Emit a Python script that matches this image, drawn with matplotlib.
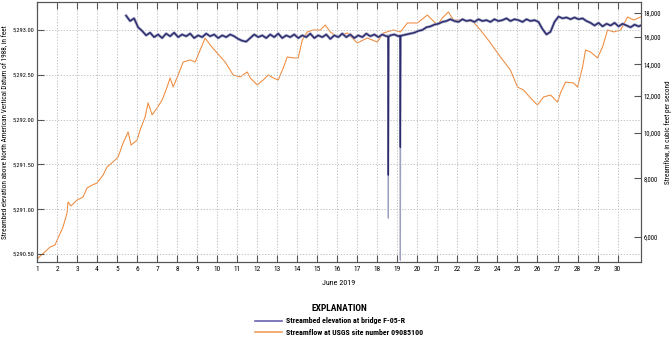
import matplotlib
matplotlib.use("Agg")
import matplotlib.pyplot as plt
import numpy as np
from matplotlib.lines import Line2D
from matplotlib.ticker import FixedLocator, FuncFormatter, NullLocator

plt.rcParams['font.family'] = ['Roboto Condensed', 'Archivo Narrow', 'DejaVu Sans']

# streamflow at USGS site 09085100, cfs
flow_day = [1.05, 1.65, 1.9, 2.05, 2.3, 2.5, 2.55, 2.7, 3.0, 3.3, 3.5, 3.75, 4.0, 4.3, 4.5,
            4.8, 5.05, 5.3, 5.55, 5.7, 6.0, 6.15, 6.4, 6.55, 6.75, 7.0, 7.25, 7.5, 7.65, 7.8,
            8.05, 8.3, 8.65, 8.9, 9.15, 9.4, 9.65, 10.0, 10.4, 10.8, 11.15, 11.5, 11.65, 12.0,
            12.3, 12.55, 12.8, 13.05, 13.3, 13.5, 13.8, 14.05, 14.25, 14.5, 14.8, 15.15, 15.4,
            15.65, 16.0, 16.5, 17.0, 17.5, 18.0, 18.3, 18.8, 19.15, 19.5, 20.0, 20.5, 21.0,
            21.25, 21.55, 21.8, 22.3, 22.8, 23.15, 23.65, 24.15, 24.65, 25.0, 25.3, 25.65,
            26.0, 26.3, 26.65, 27.0, 27.15, 27.4, 27.8, 28.0, 28.25, 28.4, 28.65, 29.0, 29.25,
            29.5, 29.8, 30.15, 30.5, 30.8, 31.15]
flow_cfs = [5410, 5710, 5770, 5970, 6300, 6750, 7120, 6990, 7190, 7300, 7630, 7740, 7820, 8130, 8460,
            8670, 8880, 9510, 10040, 9420, 9650, 10140, 10810, 11580, 10920, 11300, 11750, 12520, 13090, 12520,
            13280, 14150, 14300, 14150, 15010, 15920, 15390, 14790, 14150, 13280, 13150, 13480, 13090, 12650,
            12960, 13280, 13090, 12960, 13740, 14510, 14440, 14440, 15770, 16400, 16560, 16560, 16970,
            16400, 16000, 16320, 15540, 15920, 15610, 16320, 16560, 16400, 17140, 17140, 17820, 16970,
            17570, 18090, 17390, 17390, 17220, 16560, 15540, 14510, 13600, 12520, 12340, 11870,
            11460, 11920, 12040, 11630, 12160, 12830, 12770, 12520, 13800, 15010, 14870, 14440, 15240,
            16560, 16400, 16560, 17650, 17390, 17650]

# streambed elevation at bridge F-05-R, feet NAVD 88, every 0.2 day from June 5.45
bed_start = 5.45
bed_step = 0.2
bed_elev = [5293.16, 5293.10, 5293.13, 5293.03, 5292.99, 5292.94, 5292.97, 5292.92, 5292.95, 5292.91,
            5292.96, 5292.93, 5292.97, 5292.92, 5292.95, 5292.93, 5292.96, 5292.91, 5292.94, 5292.92,
            5292.96, 5292.93, 5292.95, 5292.91, 5292.94, 5292.92, 5292.95, 5292.93, 5292.90, 5292.88,
            5292.87, 5292.91, 5292.95, 5292.92, 5292.94, 5292.91, 5292.95, 5292.92, 5292.96, 5292.91,
            5292.94, 5292.92, 5292.95, 5292.91, 5292.94, 5292.92, 5292.96, 5292.91, 5292.94, 5292.92,
            5292.95, 5292.90, 5292.94, 5292.92, 5292.96, 5292.92, 5292.95, 5292.91, 5292.94, 5292.92,
            5292.96, 5292.93, 5292.95, 5292.92, 5292.95, 5292.93, 5292.94, 5292.95, 5292.93, 5292.94,
            5292.95, 5292.96, 5292.97, 5292.99, 5293.00, 5293.03, 5293.04, 5293.06, 5293.07, 5293.09,
            5293.10, 5293.12, 5293.10, 5293.09, 5293.12, 5293.10, 5293.11, 5293.09, 5293.12, 5293.10,
            5293.11, 5293.09, 5293.12, 5293.10, 5293.11, 5293.13, 5293.10, 5293.12, 5293.11, 5293.09,
            5293.12, 5293.10, 5293.11, 5293.09, 5293.01, 5292.95, 5292.98, 5293.09, 5293.15, 5293.13,
            5293.14, 5293.12, 5293.14, 5293.12, 5293.13, 5293.10, 5293.08, 5293.05, 5293.08, 5293.04,
            5293.07, 5293.05, 5293.08, 5293.04, 5293.07, 5293.05, 5293.03, 5293.06, 5293.04, 5293.06]
# the two short drops on June 18 and 19
spike_day = [18.53, 18.55, 18.57, 19.13, 19.15, 19.17]
spike_raw = [5292.93, 5290.90, 5292.92, 5292.94, 5290.43, 5292.93]
spike_smooth = [5292.93, 5291.38, 5292.92, 5292.94, 5291.69, 5292.93]

day_ticks = list(range(1, 31))
elev_ticks = [5290.5, 5291.0, 5291.5, 5292.0, 5292.5, 5293.0]
flow_ticks = [6000, 8000, 10000, 12000, 14000, 16000, 18000]

navy = '#2d2b6e'
halo = '#9da1bf'
orange = '#f08a3c'

bed_day = bed_start + bed_step * np.arange(len(bed_elev))
all_day = np.concatenate([bed_day, spike_day])
order = np.argsort(all_day)
raw = np.concatenate([bed_elev, spike_raw])[order]
smooth = np.concatenate([bed_elev, spike_smooth])[order]
all_day = all_day[order]

fig = plt.figure(figsize=(6.72, 3.40), dpi=100)
ax = fig.add_axes([37/672, 1 - 262/340, (641 - 37)/672, 260/340])
ax2 = ax.twinx()

ax2.plot(flow_day, flow_cfs, color=orange, lw=0.75, zorder=2)
ax.plot(all_day, raw, color=halo, lw=0.9, zorder=3)
ax.plot(bed_day, bed_elev, color=halo, lw=2.0, zorder=3)
ax.plot(all_day, smooth, color=navy, lw=1.0, zorder=4)
ax.set_zorder(ax2.get_zorder() + 1)
ax.patch.set_visible(False)

ax.set_xlim(1, 31.17)
ax.set_ylim(5290.41, 5293.3125)
ax2.set_yscale('log')
ax2.set_ylim(5308, 18996)

ax.set_xticks(day_ticks)
ax.set_xticklabels([str(d) for d in day_ticks])
ax.set_yticks(elev_ticks)
ax.yaxis.set_major_formatter(FuncFormatter(lambda v, p: '{:,.2f}'.format(v)))
ax2.yaxis.set_major_locator(FixedLocator(flow_ticks))
ax2.yaxis.set_minor_locator(NullLocator())
ax2.yaxis.set_major_formatter(FuncFormatter(lambda v, p: '{:,.0f}'.format(v)))

ax.grid(True, color='#b8b8b8', linestyle=(0, (1.5, 2)), linewidth=0.6)
ax.tick_params(axis='x', direction='in', length=5, width=0.8, labelsize=5.3,
               color='#555555', top=True, pad=3)
ax.tick_params(axis='y', direction='in', length=5, width=0.8, labelsize=4.6,
               color='#555555', pad=2)
ax2.tick_params(axis='y', direction='in', length=5, width=0.8, labelsize=4.8,
                color='#555555', pad=2)
for a in (ax, ax2):
    for s in a.spines.values():
        s.set_color('#555555')
        s.set_linewidth(0.8)

ax.set_ylabel('Streambed elevation above North American Vertical Datum of 1988, in feet',
              fontsize=5.2)
ax.yaxis.set_label_coords((9 - 37)/604, 0.5)
ax2.set_ylabel('Streamflow, in cubic feet per second', fontsize=5.1)
ax2.yaxis.set_label_coords((664 - 37)/604, 0.5)
ax.set_xlabel('June 2019', fontsize=5.8, labelpad=5)

handles = [Line2D([], [], color='#6a62b2', lw=1.2),
           Line2D([], [], color='#f0a060', lw=1.2)]
labels = ['Streambed elevation at bridge F-05-R', 'Streamflow at USGS site number 09085100']
leg = fig.legend(handles, labels, loc='upper center', bbox_to_anchor=(339/672, 1 - 297/340),
                 frameon=False, prop={'size': 5.7, 'weight': 'bold'}, title='EXPLANATION',
                 title_fontproperties={'size': 6.8, 'weight': 'bold'},
                 handlelength=3.4, handletextpad=0.6, labelspacing=0.55)

fig.savefig('out.png', dpi=100)
